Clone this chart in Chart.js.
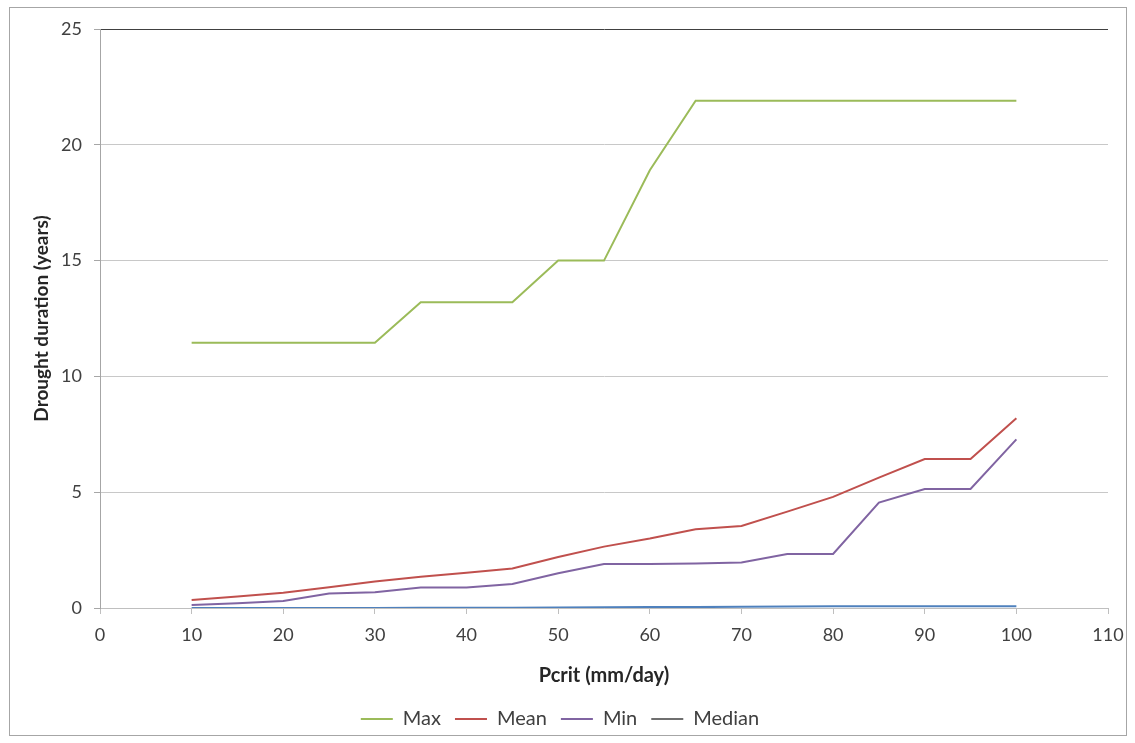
<!DOCTYPE html>
<html>
<head>
<meta charset="utf-8">
<script src="https://cdn.jsdelivr.net/npm/chart.js@4/dist/chart.umd.min.js"></script>
<style>
  html, body { margin: 0; padding: 0; background: #fff; }
  #wrap { position: relative; width: 1135px; height: 743px; }
  #frame { position: absolute; left: 9px; top: 7px; width: 1118px; height: 729px; border: 1px solid #a6a6a6; box-sizing: border-box; pointer-events: none; }
</style>
</head>
<body>
<div id="wrap">
  <canvas id="c" width="1135" height="743"></canvas>
  <div id="frame"></div>
</div>
<script>
// Critical precipitation thresholds (mm/day)
const pcrit = [10, 15, 20, 25, 30, 35, 40, 45, 50, 55, 60, 65, 70, 75, 80, 85, 90, 95, 100];

// Drought duration statistics (years)
const maxDur    = [11.45, 11.45, 11.45, 11.45, 11.45, 13.2, 13.2, 13.2, 15.0, 15.0, 18.9, 21.9, 21.9, 21.9, 21.9, 21.9, 21.9, 21.9, 21.9];
const meanDur   = [0.35, 0.5, 0.66, 0.9, 1.14, 1.35, 1.52, 1.71, 2.2, 2.65, 3.0, 3.4, 3.54, 4.16, 4.8, 5.63, 6.43, 6.43, 8.19];
const minDur    = [0.13, 0.2, 0.3, 0.63, 0.68, 0.89, 0.89, 1.04, 1.5, 1.9, 1.9, 1.92, 1.96, 2.33, 2.33, 4.55, 5.14, 5.14, 7.28];
const medianDur = [0.0, 0.0, 0.0, 0.0, 0.0, 0.01, 0.01, 0.01, 0.02, 0.03, 0.04, 0.04, 0.05, 0.07, 0.08, 0.08, 0.08, 0.08, 0.08];

const xTicks = [0, 10, 20, 30, 40, 50, 60, 70, 80, 90, 100, 110];
const yTicks = [0, 5, 10, 15, 20, 25];

const toPts = arr => arr.map((v, i) => ({ x: pcrit[i], y: v }));

const FONT = 'Lato, "Open Sans", sans-serif';
let xAxisHeight = 90;
const PLOT_BOTTOM = 608;

function series(label, data, color, legendColor) {
  return {
    label, data: toPts(data),
    borderColor: color, backgroundColor: color,
    legendColor: legendColor || color,
    borderWidth: 2, pointRadius: 0, pointHoverRadius: 0,
    pointStyle: 'line', tension: 0
  };
}

const chart = new Chart(document.getElementById('c'), {
  type: 'line',
  data: {
    datasets: [
      series('Max', maxDur, '#9bbb59'),
      series('Mean', meanDur, '#c0504d'),
      series('Min', minDur, '#8064a2'),
      series('Median', medianDur, '#4f81bd', '#6f6f6f')
    ]
  },
  options: {
    responsive: false,
    animation: false,
    events: [],
    layout: { padding: { left: 12, top: 29, right: 27, bottom: 4 } },
    plugins: {
      tooltip: { enabled: false },
      legend: {
        position: 'bottom',
        labels: {
          font: { family: FONT, size: 20 },
          color: '#404040',
          usePointStyle: true,
          pointStyle: 'line',
          pointStyleWidth: 32,
          boxHeight: 8,
          padding: 14,
          generateLabels(ch) {
            return ch.data.datasets.map((ds, i) => ({
              text: ds.label,
              fillStyle: ds.legendColor,
              strokeStyle: ds.legendColor,
              lineWidth: 2,
              pointStyle: 'line',
              hidden: false,
              datasetIndex: i,
              fontColor: '#404040'
            }));
          }
        }
      }
    },
    scales: {
      x: {
        type: 'linear',
        min: 0, max: 110,
        afterBuildTicks(s) { s.ticks = xTicks.map(v => ({ value: v })); },
        afterFit(s) { s.height = xAxisHeight; },
        grid: { display: true, drawOnChartArea: false, drawTicks: true, tickLength: 6, color: '#bfbfbf' },
        border: { display: true, color: '#bfbfbf', width: 1 },
        ticks: { font: { family: FONT, size: 18 }, color: '#404040', padding: 10, maxRotation: 0 },
        title: { display: true, text: 'Pcrit (mm/day)', font: { family: FONT, size: 20, weight: 'bold' }, color: '#262626', padding: { top: 4, bottom: 7 } }
      },
      y: {
        min: 0, max: 25,
        afterBuildTicks(s) { s.ticks = yTicks.map(v => ({ value: v })); },
        afterFit(s) { s.width = 88; },
        grid: { color: ctx => ctx.tick && ctx.tick.value === 25 ? '#404040' : '#c8c8c8', lineWidth: 1, tickLength: 6, tickColor: '#a6a6a6' },
        border: { display: true, color: '#a6a6a6', width: 1 },
        ticks: { font: { family: FONT, size: 18 }, color: '#404040', padding: 12 },
        title: { display: true, text: 'Drought duration (years)', font: { family: FONT, size: 19, weight: 'bold' }, color: '#262626', padding: { top: 18, bottom: 4 } }
      }
    }
  }
});

// keep the plot floor on its baseline whatever the legend height turns out to be
const delta = chart.chartArea.bottom - PLOT_BOTTOM;
if (Math.abs(delta) > 0.5) {
  xAxisHeight += delta;
  chart.update('none');
}
</script>
</body>
</html>
